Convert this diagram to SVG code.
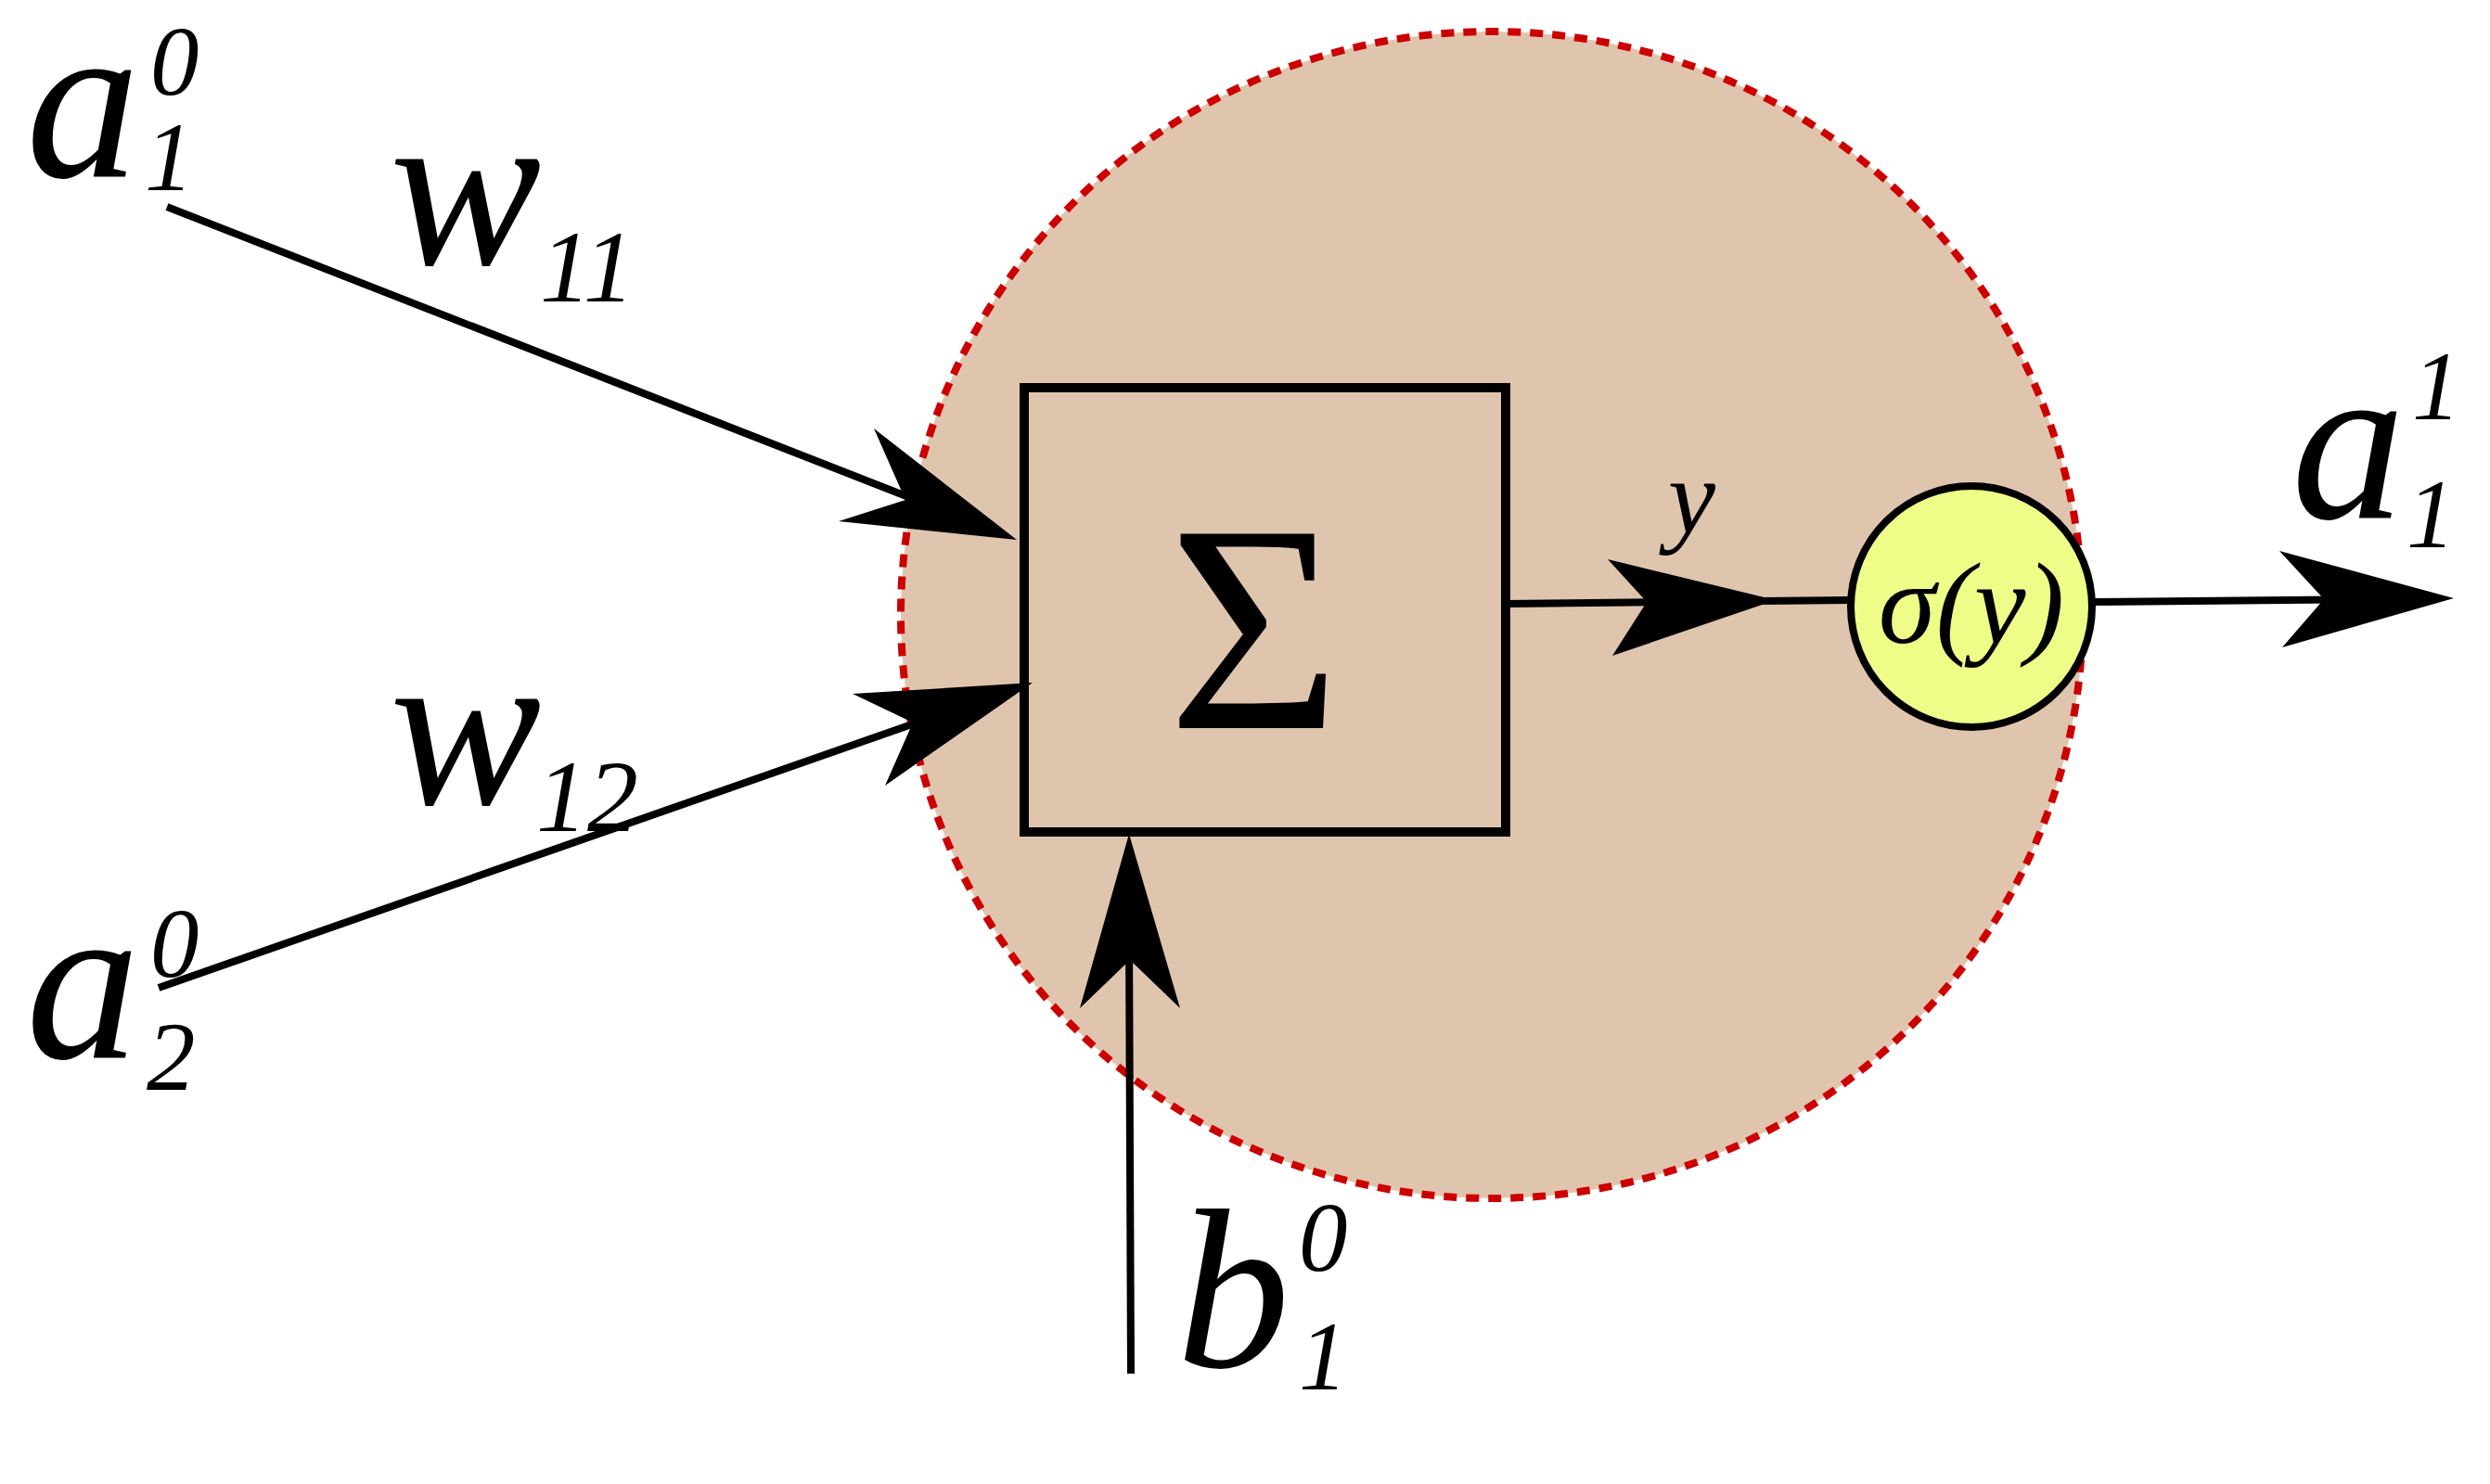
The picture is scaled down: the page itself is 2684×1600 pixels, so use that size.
<svg xmlns="http://www.w3.org/2000/svg" width="2684" height="1600" viewBox="0 0 2684 1600">
<style>
.t{font-family:"Liberation Serif","DejaVu Serif",serif;font-style:italic;fill:#000}
.l{stroke:#000;stroke-width:8;fill:none}
.h{fill:#000;stroke:none}
</style>
<rect width="2684" height="1600" fill="#fff"/>
<g id="neuron"><ellipse cx="1608" cy="663" rx="637" ry="629" fill="#e0c5ae" stroke="#cc0000" stroke-width="8" stroke-dasharray="14 10"/></g>
<g id="sum"><rect x="1104" y="418" width="519" height="479" fill="none" stroke="#000" stroke-width="10"/>
<text x="1352" y="785" font-size="320" text-anchor="middle" font-family="Liberation Serif,serif" fill="#000">Σ</text></g>
<g id="activation"><circle cx="2125" cy="654" r="130" fill="#eefd88" stroke="#000" stroke-width="8"/>
<text class="t" x="2125" y="693" font-size="125" text-anchor="middle">σ(y)</text></g>
<g id="connectors">
<line class="l" x1="180" y1="223" x2="1000" y2="544"/>
<polygon class="h" points="1096,582 942,462 976,539 904,562"/>
<line class="l" x1="171" y1="1065" x2="1000" y2="775"/>
<polygon class="h" points="1113,736 919,748 984,779 954,847"/>
<line class="l" x1="1219" y1="1481" x2="1217" y2="1000"/>
<polygon class="h" points="1217,899 1164,1087 1218,1035 1272,1087"/>
<line class="l" x1="1623" y1="651" x2="1995" y2="647"/>
<polygon class="h" points="1914,647 1733,603 1775,649 1738,707"/>
<line class="l" x1="2256" y1="649" x2="2560" y2="646"/>
<polygon class="h" points="2645,645 2457,594 2505,646 2460,698"/>
</g>
<g id="labels">
<text class="t" x="28" y="190" font-size="245">a</text><text class="t" x="162" y="102" font-size="105">0</text><text class="t" x="156" y="205" font-size="105">1</text>
<text class="t" x="420" y="285" font-size="245">w</text><text class="t" x="582" y="325" font-size="110">11</text>
<text class="t" x="420" y="867" font-size="245">w</text><text class="t" x="578" y="896" font-size="110">12</text>
<text class="t" x="28" y="1140" font-size="245">a</text><text class="t" x="162" y="1053" font-size="105">0</text><text class="t" x="158" y="1175" font-size="105">2</text>
<text class="t" x="1268" y="1474" font-size="245">b</text><text class="t" x="1400" y="1370" font-size="105">0</text><text class="t" x="1400" y="1498" font-size="105">1</text>
<text class="t" x="2470" y="558" font-size="245">a</text><text class="t" x="2600" y="452" font-size="105">1</text><text class="t" x="2594" y="590" font-size="105">1</text>
<text class="t" x="1798" y="575" font-size="115">y</text>
</g>
</svg>
